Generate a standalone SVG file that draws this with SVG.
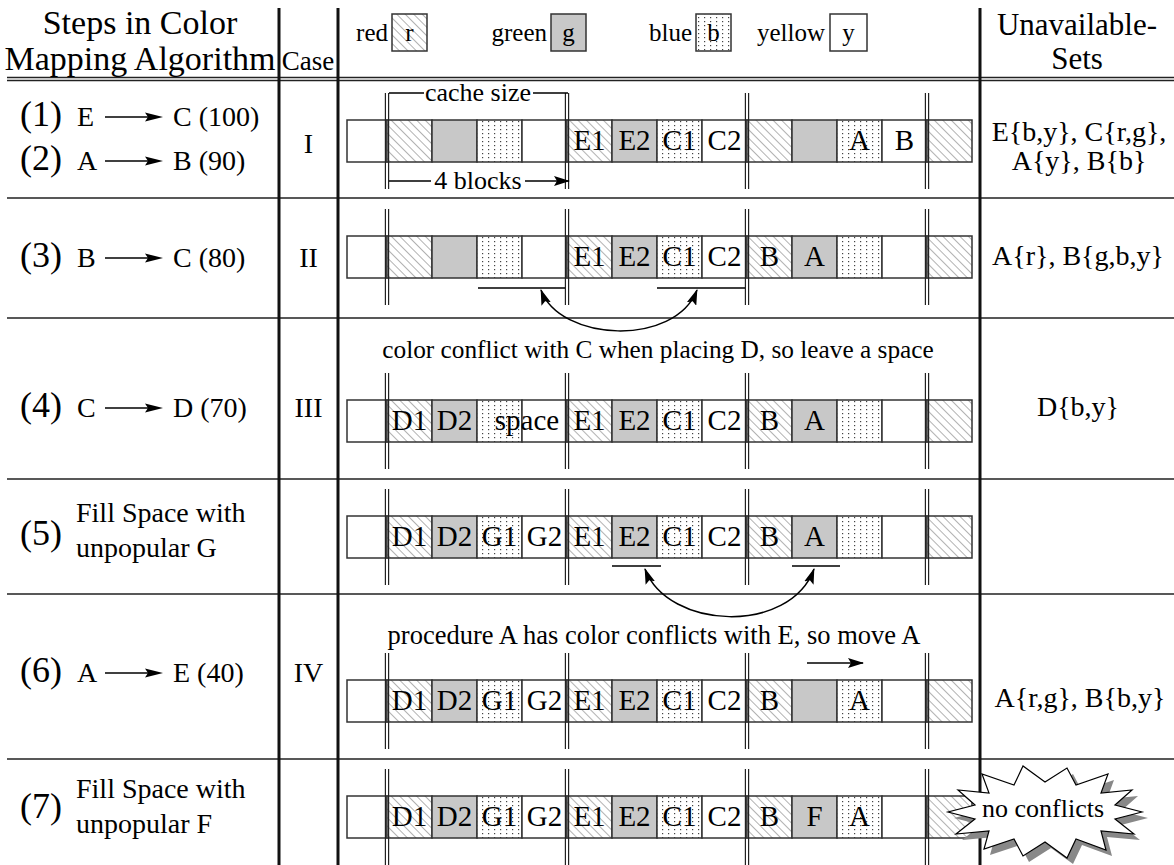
<svg xmlns="http://www.w3.org/2000/svg" width="1174" height="865" viewBox="0 0 1174 865">
<style>
text{font-family:"Liberation Serif","Times New Roman",serif;fill:#000}
.hd{font-size:34px;text-anchor:middle}
.cs{font-size:27px;text-anchor:middle}
.lg{font-size:25px;text-anchor:end}
.lgc{font-size:25px;text-anchor:middle}
.num{font-size:36px}
.st{font-size:28px}
.cn{font-size:28px;text-anchor:middle}
.cl{font-size:29px;text-anchor:middle}
.un{font-size:28px;text-anchor:middle}
.uh{font-size:31px;text-anchor:middle}
.an{font-size:26px;text-anchor:middle}
.grid{stroke:#222;stroke-width:1.6;fill:none}
.col{stroke:#111;stroke-width:3;fill:none}
.cell{stroke:#333;stroke-width:1.5}
.r{fill:url(#hatch)}
.g{fill:#c8c8c8}
.b{fill:url(#dots)}
.y{fill:#fff}
.dl{stroke:#222;stroke-width:1.2;fill:none}
.ul{stroke:#000;stroke-width:1.5;fill:none}
.ar{stroke:#000;stroke-width:1.5;fill:none;marker-end:url(#ah)}
.cv{fill:none;stroke:#000;stroke-width:1.5;marker-start:url(#ah);marker-end:url(#ah)}
</style>
<defs>
<pattern id="hatch" patternUnits="userSpaceOnUse" width="6" height="6" patternTransform="rotate(-45)">
<rect width="6" height="6" fill="#fff"/><line x1="0" y1="0" x2="0" y2="6" stroke="#888" stroke-width="1.3"/>
</pattern>
<pattern id="dots" patternUnits="userSpaceOnUse" width="6" height="4">
<rect width="6" height="4" fill="#fff"/><rect x="2" y="1" width="1.2" height="1.2" fill="#444"/>
</pattern>
<marker id="ah" viewBox="0 0 16 10" refX="15" refY="5" markerWidth="16" markerHeight="10" markerUnits="userSpaceOnUse" orient="auto-start-reverse">
<path d="M0,0 L16,5 L0,10 L3,5z" fill="#000"/>
</marker>
<g id="sa">
<line x1="0" y1="0" x2="46" y2="0" stroke="#000" stroke-width="1.5"/>
<path d="M40,-4.5 L58,0 L40,4.5 L43,0z" fill="#000"/>
</g>
<g id="bar">
<rect class="cell y" x="347" y="0" width="40" height="42"/>
<rect class="cell r" x="387" y="0" width="45" height="42"/>
<rect class="cell g" x="432" y="0" width="45" height="42"/>
<rect class="cell b" x="477" y="0" width="45" height="42"/>
<rect class="cell y" x="522" y="0" width="45" height="42"/>
<rect class="cell r" x="567" y="0" width="45" height="42"/>
<rect class="cell g" x="612" y="0" width="45" height="42"/>
<rect class="cell b" x="657" y="0" width="45" height="42"/>
<rect class="cell y" x="702" y="0" width="45" height="42"/>
<rect class="cell r" x="747" y="0" width="45" height="42"/>
<rect class="cell g" x="792" y="0" width="45" height="42"/>
<rect class="cell b" x="837" y="0" width="45" height="42"/>
<rect class="cell y" x="882" y="0" width="45" height="42"/>
<rect class="cell r" x="927" y="0" width="45" height="42"/>
<path class="dl" d="M385.4,-27V69M388.6,-27V69M565.4,-27V69M568.6,-27V69M745.4,-27V69M748.6,-27V69M925.4,-27V69M928.6,-27V69"/>
</g>
</defs>
<rect width="1174" height="865" fill="#fff"/>

<g id="table">
<path class="grid" d="M7,77.5H1174M7,80.5H1174M7,198H1174M7,318H1174M7,479H1174M7,594H1174M7,759H1174"/>
<path class="col" d="M279,8V865M338,8V865M980,8V865"/>
</g>

<g id="header">
<text class="hd" x="140" y="34">Steps in Color</text>
<text class="hd" x="140" y="70">Mapping Algorithm</text>
<text class="cs" x="308" y="70">Case</text>
<text class="uh" x="1077" y="35">Unavailable-</text>
<text class="uh" x="1077" y="69">Sets</text>
</g>

<g id="legend">
<text class="lg" x="388" y="41">red</text>
<rect class="cell r" x="392" y="14" width="35" height="37"/>
<text class="lgc" x="409.5" y="41">r</text>
<text class="lg" x="547" y="41">green</text>
<rect class="cell g" x="551" y="14" width="35" height="37"/>
<text class="lgc" x="568.5" y="41">g</text>
<text class="lg" x="692" y="41">blue</text>
<rect class="cell b" x="696" y="14" width="35" height="37"/>
<text class="lgc" x="713.5" y="41">b</text>
<text class="lg" x="825" y="41">yellow</text>
<rect class="cell y" x="830" y="14" width="37" height="37"/>
<text class="lgc" x="848.5" y="41">y</text>
</g>

<g id="row1">
<text class="num" x="20" y="126">(1)</text>
<text class="st" x="77" y="126">E</text>
<use href="#sa" x="105" y="117"/>
<text class="st" x="173" y="126">C (100)</text>
<text class="num" x="20" y="170">(2)</text>
<text class="st" x="77" y="170">A</text>
<use href="#sa" x="105" y="161"/>
<text class="st" x="173" y="170">B (90)</text>
<text class="cn" x="308.5" y="153">I</text>
<use href="#bar" y="120"/>
<g transform="translate(0,150)">
<text class="cl" x="589.5">E1</text><text class="cl" x="634.5">E2</text><text class="cl" x="679.5">C1</text><text class="cl" x="724.5">C2</text>
<text class="cl" x="859.5">A</text><text class="cl" x="904.5">B</text>
</g>
<text class="an" x="478" y="101">cache size</text>
<text class="an" x="478" y="189">4 blocks</text>
<text class="un" x="1079" y="141">E{b,y}, C{r,g},</text>
<text class="un" x="1079" y="170">A{y}, B{b}</text>
</g>

<g id="row2">
<text class="num" x="20" y="267">(3)</text>
<text class="st" x="77" y="267">B</text>
<use href="#sa" x="105" y="258"/>
<text class="st" x="173" y="267">C (80)</text>
<text class="cn" x="308.5" y="267">II</text>
<use href="#bar" y="236"/>
<g transform="translate(0,266)">
<text class="cl" x="589.5">E1</text><text class="cl" x="634.5">E2</text><text class="cl" x="679.5">C1</text><text class="cl" x="724.5">C2</text>
<text class="cl" x="769.5">B</text><text class="cl" x="814.5">A</text>
</g>
<text class="un" x="1078" y="265">A{r}, B{g,b,y}</text>
</g>

<g id="row3">
<text class="num" x="20" y="417">(4)</text>
<text class="st" x="77" y="417">C</text>
<use href="#sa" x="105" y="408"/>
<text class="st" x="173" y="417">D (70)</text>
<text class="cn" x="308.5" y="417">III</text>
<text class="an" x="658" y="358" style="font-size:25.3px">color conflict with C when placing D, so leave a space</text>
<use href="#bar" y="400"/>
<g transform="translate(0,430)">
<text class="cl" x="409.5">D1</text><text class="cl" x="454.5">D2</text><text class="cl" x="527">space</text>
<text class="cl" x="589.5">E1</text><text class="cl" x="634.5">E2</text><text class="cl" x="679.5">C1</text><text class="cl" x="724.5">C2</text>
<text class="cl" x="769.5">B</text><text class="cl" x="814.5">A</text>
</g>
<text class="un" x="1078" y="416">D{b,y}</text>
</g>

<g id="row5">
<text class="num" x="20" y="545">(5)</text>
<text class="st" x="76" y="522">Fill Space with</text>
<text class="st" x="76" y="557">unpopular G</text>
<use href="#bar" y="516"/>
<g transform="translate(0,546)">
<text class="cl" x="409.5">D1</text><text class="cl" x="454.5">D2</text><text class="cl" x="499.5">G1</text><text class="cl" x="544.5">G2</text>
<text class="cl" x="589.5">E1</text><text class="cl" x="634.5">E2</text><text class="cl" x="679.5">C1</text><text class="cl" x="724.5">C2</text>
<text class="cl" x="769.5">B</text><text class="cl" x="814.5">A</text>
</g>
</g>

<g id="row6">
<text class="num" x="20" y="682">(6)</text>
<text class="st" x="77" y="682">A</text>
<use href="#sa" x="105" y="673"/>
<text class="st" x="173" y="682">E (40)</text>
<text class="cn" x="308.5" y="682">IV</text>
<text class="an" x="654" y="644" style="font-size:26.5px">procedure A has color conflicts with E, so move A</text>
<use href="#bar" y="680"/>
<g transform="translate(0,710)">
<text class="cl" x="409.5">D1</text><text class="cl" x="454.5">D2</text><text class="cl" x="499.5">G1</text><text class="cl" x="544.5">G2</text>
<text class="cl" x="589.5">E1</text><text class="cl" x="634.5">E2</text><text class="cl" x="679.5">C1</text><text class="cl" x="724.5">C2</text>
<text class="cl" x="769.5">B</text><text class="cl" x="859.5">A</text>
</g>
<text class="un" x="1080" y="707">A{r,g}, B{b,y}</text>
</g>

<g id="row7">
<text class="num" x="20" y="818">(7)</text>
<text class="st" x="76" y="798">Fill Space with</text>
<text class="st" x="76" y="833">unpopular F</text>
<use href="#bar" y="796"/>
<g transform="translate(0,826)">
<text class="cl" x="409.5">D1</text><text class="cl" x="454.5">D2</text><text class="cl" x="499.5">G1</text><text class="cl" x="544.5">G2</text>
<text class="cl" x="589.5">E1</text><text class="cl" x="634.5">E2</text><text class="cl" x="679.5">C1</text><text class="cl" x="724.5">C2</text>
<text class="cl" x="769.5">B</text><text class="cl" x="814.5">F</text><text class="cl" x="859.5">A</text>
</g>
</g>

<g id="connectors">
<path class="ar" d="M424,93H389M533,93H568M431,181H389M525,181H569"/>
<path class="ul" d="M478,288H565M657,288H745"/>
<path class="cv" d="M541,290C560,342 675,347 697,290"/>
<path class="ul" d="M612,566H661M792,566H840"/>
<path class="cv" d="M645,569C668,630 790,635 814,569"/>
<path class="ar" d="M807,663H863"/>
</g>

<g id="starburst">
<polygon transform="translate(6,6)" fill="#888" points="1142,812 1115,819 1134,834 1101,831 1106,850 1076,839 1067,858 1045,842 1023,856 1014,839 984,849 989,831 956,834 975,819 948,812 975,805 958,790 989,793 982,774 1014,785 1023,766 1045,782 1067,768 1076,785 1108,774 1101,793 1132,790 1115,805"/>
<polygon fill="#fff" stroke="#000" stroke-width="1.2" points="1142,812 1115,819 1134,834 1101,831 1106,850 1076,839 1067,858 1045,842 1023,856 1014,839 984,849 989,831 956,834 975,819 948,812 975,805 958,790 989,793 982,774 1014,785 1023,766 1045,782 1067,768 1076,785 1108,774 1101,793 1132,790 1115,805"/>
<text class="an" x="1043" y="817">no conflicts</text>
</g>
</svg>
